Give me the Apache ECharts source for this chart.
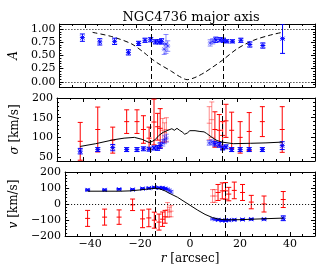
<!DOCTYPE html>
<html>
<head>
<meta charset="utf-8">
<script src="https://cdn.jsdelivr.net/npm/echarts@6/dist/echarts.min.js"></script>
<style>html,body{margin:0;padding:0;background:#fff}#c{width:332px;height:277px}</style>
</head>
<body>
<div id="c"></div>
<script>
// ---------------- data ----------------
const radii = [-41, -34.2, -28.4, -23, -19, -16.5, -14.3, -12.4, -11, -10, -9, -8.3, -7.6,
               9, 10, 11.2, 12.9, 14.2, 15.5, 17.7, 21, 24.5, 29.6, 37.3];
const faintRadii = [-9, -8.3, -7.6, 9, 10];

const aVal = [0.84, 0.76, 0.77, 0.56, 0.73, 0.79, 0.80, 0.76, 0.76, 0.77, 0.62, 0.72, 0.68,
              0.74, 0.77, 0.80, 0.80, 0.79, 0.77, 0.77, 0.79, 0.71, 0.69, 0.82];
const aErr = [0.07, 0.06, 0.06, 0.05, 0.04, 0.04, 0.04, 0.04, 0.04, 0.05, 0.10, 0.18, 0.10,
              0.06, 0.05, 0.05, 0.04, 0.04, 0.03, 0.03, 0.04, 0.05, 0.05, 0.28];

const sigBlue = [65, 69, 74, 69, 69, 71, 70, 73, 73, 79, 86, 94, 98,
                 86, 88, 84, 81, 73, 76, 69, 69, 69, 69, 79];
const sigBlueErr = [7, 5, 8, 5, 5, 5, 5, 5, 6, 7, 8, 10, 10,
                    6, 6, 6, 6, 5, 5, 5, 5, 5, 5, 10];
const sigRed = [90, 120, 93, 140, 140, 120, 98, 139, 127, 123, 118, 112, 120,
                136, 145, 120, 118, 105, 142, 118, 100, 115, 140, 120];
const sigRedErr = [48, 57, 33, 30, 30, 35, 28, 58, 34, 50, 30, 25, 30,
                   42, 45, 45, 40, 35, 42, 46, 40, 48, 38, 58];

const vBlue = [88, 88, 92, 90, 96, 99, 103, 101, 101, 96, 92, 84, 76,
               -93, -97, -99, -103, -103, -101, -99, -97, -95, -95, -89];
const vBlueErr = [5, 5, 5, 5, 5, 5, 5, 5, 5, 5, 6, 8, 8,
                  5, 5, 5, 5, 5, 5, 5, 5, 5, 5, 15];
const vRed = [-90, -82, -82, -5, -93, -87, -101, -113, -95, -80, -37, -50, -45,
              50, 50, 72, 82, 82, 62, 85, 72, 12, 0, 28];
const vRedErr = [50, 50, 45, 36, 55, 55, 50, 50, 45, 40, 46, 30, 35,
                 40, 40, 50, 50, 52, 42, 52, 50, 42, 50, 50];

const aModelR   = [-37, -29.5, -21.7, -16.5, -14.3, -11.4, -6.2, -3, 0, 3, 6.6, 10, 13.8, 19.6, 26, 32.6, 37.1];
const aModelVal = [0.94, 0.86, 0.72, 0.54, 0.45, 0.35, 0.20, 0.10, 0.04, 0.08, 0.17, 0.28, 0.41, 0.63, 0.79, 0.89, 0.94];

const sigModelR   = [-41, -35, -28, -24, -20, -17, -14.3, -13, -12, -10.5, -8.8, -7, -5.5, -4.5, -3.5, -2.5, -1.5, -0.5, 0.5, 1.5, 2.2, 3.5, 5.4, 7, 8, 10.5, 12, 14, 18.3, 25, 31, 37.3];
const sigModelVal = [77, 84, 94, 98, 100, 95, 87, 90, 94, 105, 113, 118, 122, 118, 123, 118, 114, 108, 111, 117, 121, 117, 115, 114, 110, 98, 92, 88, 84, 85, 86, 88];

const vModelR   = [-41, -35, -28, -24, -20, -16, -14, -12, -10, -8, -5, -2, 0, 3, 6, 9, 11, 14, 20, 30, 37.3];
const vModelVal = [80, 80, 80, 82, 88, 95, 98, 94, 82, 65, 42, 12, -8, -38, -65, -85, -93, -99, -98, -92, -88];

const dashR = [-14, 14];

const xTicks = [-40, -20, 0, 20, 40];
const xMinorTicks = [-45, -35, -30, -25, -15, -10, -5, 5, 10, 15, 25, 30, 35, 45];
const aTicks = [0, 0.25, 0.5, 0.75, 1.0];
const aMinorTicks = [-0.05, 0.05, 0.1, 0.15, 0.2, 0.3, 0.35, 0.4, 0.45, 0.55, 0.6, 0.65, 0.7, 0.8, 0.85, 0.9, 0.95, 1.05];
const sigTicks = [50, 100, 150, 200];
const sigMinorTicks = [60, 70, 80, 90, 110, 120, 130, 140, 160, 170, 180, 190];
const vTicks = [-200, -100, 0, 100, 200];
const vMinorTicks = [-180, -160, -140, -120, -80, -60, -40, -20, 20, 40, 60, 80, 120, 140, 160, 180];

// ---------------- chart ----------------
const FONT = 'DejaVu Serif';
const BLUE = '#0000ff', RED = '#ff0000';

const grids = [
  {left: 57, width: 258, top: 24, height: 63},
  {left: 57, width: 258, top: 98, height: 63},
  {left: 57, width: 258, top: 172, height: 64}
];
const yRanges = [
  {min: -0.1, max: 1.1, ticks: aTicks, minor: aMinorTicks, fmt: v => v.toFixed(2)},
  {min: 40, max: 200, ticks: sigTicks, minor: sigMinorTicks, fmt: v => String(v)},
  {min: -200, max: 200, ticks: vTicks, minor: vMinorTicks, fmt: v => (v < 0 ? '\u2212' + (-v) : String(v))}
];
const yNames = ['{i|A}', '{i|\u03c3} [km/s]', '{i|v} [km/s]'];

const xAxes = [], yAxes = [];
grids.forEach((g, gi) => {
  ['bottom', 'top'].forEach(pos => {
    [true, false].forEach(major => {
      const showLabel = major && pos === 'bottom' && gi === 2;
      xAxes.push({
        gridIndex: gi, type: 'value', position: pos, min: -50, max: 50,
        axisLine: {show: major, onZero: false, lineStyle: {color: '#000', width: 1}},
        axisTick: {show: true, inside: true, length: major ? 4 : 2,
                   customValues: major ? xTicks : xMinorTicks, lineStyle: {color: '#000'}},
        axisLabel: {show: showLabel, customValues: xTicks, margin: 3, color: '#000',
                    fontFamily: FONT, fontSize: 11,
                    formatter: v => (v < 0 ? '\u2212' + (-v) : String(v))},
        splitLine: {show: false},
        name: showLabel ? '{i|r} [arcsec]' : '',
        nameLocation: 'middle', nameGap: 17,
        nameTextStyle: {fontFamily: FONT, fontSize: 12, color: '#000',
                        rich: {i: {fontFamily: FONT, fontStyle: 'italic', fontSize: 12, color: '#000'}}}
      });
    });
  });
  const yr = yRanges[gi];
  ['left', 'right'].forEach(pos => {
    [true, false].forEach(major => {
      const showLabel = major && pos === 'left';
      yAxes.push({
        gridIndex: gi, type: 'value', position: pos, min: yr.min, max: yr.max,
        axisLine: {show: major, onZero: false, lineStyle: {color: '#000', width: 1}},
        axisTick: {show: true, inside: true, length: major ? 4 : 2,
                   customValues: major ? yr.ticks : yr.minor, lineStyle: {color: '#000'}},
        axisLabel: {show: showLabel, customValues: yr.ticks, margin: 4, color: '#000',
                    fontFamily: FONT, fontSize: 11, formatter: yr.fmt},
        splitLine: {show: false},
        name: showLabel ? yNames[gi] : '',
        nameLocation: 'middle', nameGap: 31,
        nameTextStyle: {fontFamily: FONT, fontSize: 12, color: '#000',
                        rich: {i: {fontFamily: FONT, fontStyle: 'italic', fontSize: 12, color: '#000'}}}
      });
    });
  });
});

function zip(r, v, e) {
  return r.map((x, i) => [x, v[i], e[i], faintRadii.includes(x) ? 1 : 0]);
}
function zip2(r, v) { return r.map((x, i) => [x, v[i]]); }

function errRender(color, star) {
  return function (params, api) {
    const x = api.value(0), y = api.value(1), e = api.value(2), faint = api.value(3);
    const c = api.coord([x, y]);
    const hi = api.coord([x, y + e]);
    const lo = api.coord([x, y - e]);
    const cap = 2.5;
    const st = () => ({stroke: color, lineWidth: 1, opacity: faint ? 0.45 : 1});
    const kids = [
      {type: 'line', shape: {x1: c[0], y1: hi[1], x2: c[0], y2: lo[1]}, style: st()},
      {type: 'line', shape: {x1: c[0] - cap, y1: hi[1], x2: c[0] + cap, y2: hi[1]}, style: st()},
      {type: 'line', shape: {x1: c[0] - cap, y1: lo[1], x2: c[0] + cap, y2: lo[1]}, style: st()},
      {type: 'line', shape: {x1: c[0] - cap, y1: c[1], x2: c[0] + cap, y2: c[1]}, style: st()}
    ];
    if (star) {
      const s = 2;
      kids.push({type: 'line', shape: {x1: c[0] - s, y1: c[1] - s, x2: c[0] + s, y2: c[1] + s}, style: st()});
      kids.push({type: 'line', shape: {x1: c[0] - s, y1: c[1] + s, x2: c[0] + s, y2: c[1] - s}, style: st()});
    }
    return {type: 'group', children: kids};
  };
}

const dashStyle = {color: '#000', width: 1, type: [5, 3]};
const dotStyle = {color: '#000', width: 1, type: [1, 2]};
const vDash = dashR.map(r => ({xAxis: r, lineStyle: dashStyle}));

const series = [];
// Panel 1: A
series.push({
  type: 'custom', xAxisIndex: 0, yAxisIndex: 0, renderItem: errRender(BLUE, true),
  data: zip(radii, aVal, aErr), z: 3, animation: false, clip: true
});
series.push({
  type: 'line', xAxisIndex: 0, yAxisIndex: 0, data: zip2(aModelR, aModelVal),
  showSymbol: false, smooth: 0.3, lineStyle: dashStyle, z: 2, animation: false,
  markLine: {silent: true, symbol: 'none', label: {show: false}, animation: false,
    data: vDash.concat([{yAxis: 0, lineStyle: dotStyle}, {yAxis: 1, lineStyle: dotStyle}])}
});
// Panel 2: sigma
series.push({
  type: 'custom', xAxisIndex: 4, yAxisIndex: 4, renderItem: errRender(RED, false),
  data: zip(radii, sigRed, sigRedErr), z: 2, animation: false, clip: true
});
series.push({
  type: 'custom', xAxisIndex: 4, yAxisIndex: 4, renderItem: errRender(BLUE, true),
  data: zip(radii, sigBlue, sigBlueErr), z: 3, animation: false, clip: true
});
series.push({
  type: 'line', xAxisIndex: 4, yAxisIndex: 4, data: zip2(sigModelR, sigModelVal),
  showSymbol: false, lineStyle: {color: '#000', width: 1}, z: 4, animation: false,
  markLine: {silent: true, symbol: 'none', label: {show: false}, animation: false,
    data: vDash.slice()}
});
// Panel 3: v
series.push({
  type: 'custom', xAxisIndex: 8, yAxisIndex: 8, renderItem: errRender(RED, false),
  data: zip(radii, vRed, vRedErr), z: 2, animation: false, clip: true
});
series.push({
  type: 'custom', xAxisIndex: 8, yAxisIndex: 8, renderItem: errRender(BLUE, true),
  data: zip(radii, vBlue, vBlueErr), z: 3, animation: false, clip: true
});
series.push({
  type: 'line', xAxisIndex: 8, yAxisIndex: 8, data: zip2(vModelR, vModelVal),
  showSymbol: false, lineStyle: {color: '#000', width: 1}, z: 4, animation: false,
  markLine: {silent: true, symbol: 'none', label: {show: false}, animation: false,
    data: vDash.concat([{yAxis: 0, lineStyle: dotStyle}])}
});

const chart = echarts.init(document.getElementById('c'), null, {renderer: 'canvas'});
chart.setOption({
  animation: false,
  backgroundColor: '#fff',
  title: {text: 'NGC4736 major axis', left: 186, top: 6, textAlign: 'center',
          textStyle: {fontFamily: FONT, fontSize: 13, fontWeight: 'normal', color: '#000'}},
  grid: grids,
  xAxis: xAxes,
  yAxis: yAxes,
  series: series
});
</script>
</body>
</html>
